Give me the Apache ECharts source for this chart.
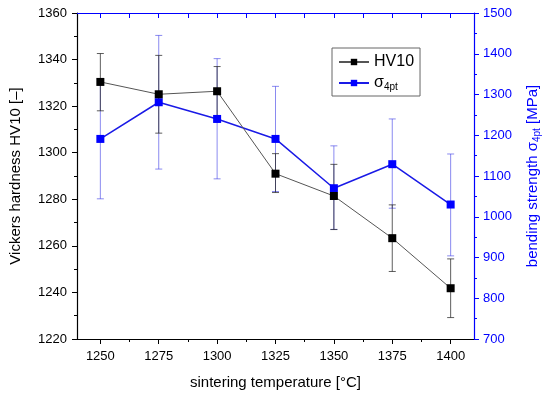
<!DOCTYPE html>
<html><head><meta charset="utf-8">
<script src="https://cdn.jsdelivr.net/npm/echarts@6/dist/echarts.min.js"></script>
<style>html,body{margin:0;padding:0;background:#fff}#c{width:550px;height:397px}</style>
</head><body><div id="c"></div>
<script>
const temps = [1250, 1275, 1300, 1325, 1350, 1375, 1400];
const hv = [1330.4, 1325.1, 1326.4, 1291.0, 1281.4, 1263.3, 1241.8];
const hvHigh = [1342.6, 1341.8, 1337.0, 1299.6, 1295.0, 1277.6, 1254.4];
const hvLow = [1318.0, 1308.4, 1315.8, 1282.9, 1267.0, 1249.0, 1229.2];
const sigma = [1191, 1281, 1240, 1191, 1070, 1129, 1030];
const sigmaHigh = [1338, 1445, 1388, 1320, 1174, 1240, 1154];
const sigmaLow = [1044, 1117, 1093, 1062, 969, 1021, 904];
const xMajor = [1250, 1275, 1300, 1325, 1350, 1375, 1400];
const xMinor = [1262.5, 1287.5, 1312.5, 1337.5, 1362.5, 1387.5];

const FONT = '"Liberation Sans", Arial, sans-serif';
const BLUE = '#0000ff';
const plain = v => String(v);

function errBar(color) {
  return function (params, api) {
    const x = api.value(0), lo = api.value(1), hi = api.value(2);
    const pLo = api.coord([x, lo]), pHi = api.coord([x, hi]);
    const w = 3.5;
    const st = { stroke: color, lineWidth: 1 };
    return { type: 'group', children: [
      { type: 'line', shape: { x1: pLo[0], y1: pLo[1], x2: pHi[0], y2: pHi[1] }, style: st },
      { type: 'line', shape: { x1: pLo[0] - w, y1: pLo[1], x2: pLo[0] + w, y2: pLo[1] }, style: st },
      { type: 'line', shape: { x1: pHi[0] - w, y1: pHi[1], x2: pHi[0] + w, y2: pHi[1] }, style: st }
    ]};
  };
}

const chart = echarts.init(document.getElementById('c'));
chart.setOption({
  animation: false,
  textStyle: { fontFamily: FONT },
  grid: { left: 71, right: 72, top: 13, bottom: 58 },
  legend: {
    left: 332, top: 48, orient: 'vertical', itemGap: 5,
    borderColor: '#666', borderWidth: 1, padding: [6, 6, 4, 6],
    itemWidth: 30, itemHeight: 8,
    data: ['HV10', 'sigma'],
    formatter: n => n === 'HV10' ? 'HV10' : '{s|σ}{sub|4pt}',
    textStyle: { fontSize: 16, color: '#000', fontFamily: FONT,
      rich: { s: { fontSize: 16, fontFamily: FONT }, sub: { fontSize: 10, verticalAlign: 'bottom', padding: [8, 0, 0, 0], fontFamily: FONT } } }
  },
  xAxis: [
    { type: 'value', min: 1240, max: 1410, position: 'bottom',
      name: 'sintering temperature [°C]', nameLocation: 'middle', nameGap: 36,
      nameTextStyle: { fontSize: 15, color: '#000', fontFamily: FONT },
      axisLine: { onZero: false, lineStyle: { color: '#000', width: 1.2 } },
      axisTick: { customValues: xMajor, length: 5, lineStyle: { color: '#000' } },
      axisLabel: { customValues: xMajor, fontSize: 13, color: '#000', margin: 11, fontFamily: FONT, formatter: plain },
      splitLine: { show: false } },
    { type: 'value', min: 1240, max: 1410, position: 'bottom',
      axisLine: { show: false },
      axisTick: { customValues: xMinor, length: 3, lineStyle: { color: '#000' } },
      axisLabel: { show: false }, splitLine: { show: false } },
    { type: 'value', min: 1240, max: 1410, position: 'top',
      axisLine: { onZero: false, lineStyle: { color: BLUE, width: 1.2 } },
      axisTick: { customValues: xMajor.concat(xMinor), inside: true, length: 5, lineStyle: { color: BLUE } },
      axisLabel: { show: false }, splitLine: { show: false } }
  ],
  yAxis: [
    { type: 'value', min: 1220, max: 1360, interval: 20, position: 'left',
      name: 'Vickers hardness HV10 [–]', nameLocation: 'middle', nameGap: 54, nameRotate: 90,
      nameTextStyle: { fontSize: 15, color: '#000', fontFamily: FONT },
      axisLine: { show: true, lineStyle: { color: '#000', width: 1.2 } },
      axisTick: { show: true, length: 5, lineStyle: { color: '#000' } },
      minorTick: { show: true, splitNumber: 2, length: 3, lineStyle: { color: '#000' } },
      axisLabel: { fontSize: 13, color: '#000', margin: 10, fontFamily: FONT, formatter: plain },
      splitLine: { show: false } },
    { type: 'value', min: 700, max: 1500, interval: 100, position: 'right',
      name: 'bending strength σ{sub|4pt} [MPa]', nameLocation: 'middle', nameGap: 50, nameRotate: 90,
      nameTextStyle: { fontSize: 15, color: BLUE, fontFamily: FONT,
        rich: { sub: { fontSize: 10, color: BLUE, verticalAlign: 'bottom', padding: [8, 0, 0, 0] } } },
      axisLine: { show: true, lineStyle: { color: BLUE, width: 1.2 } },
      axisTick: { show: true, length: 5, lineStyle: { color: BLUE } },
      minorTick: { show: true, splitNumber: 2, length: 3, lineStyle: { color: BLUE } },
      axisLabel: { fontSize: 13, color: BLUE, margin: 9, fontFamily: FONT, formatter: plain },
      splitLine: { show: false } }
  ],
  series: [
    { type: 'custom', name: 'sigmaErr', yAxisIndex: 1, renderItem: errBar('rgba(60,60,230,0.6)'),
      data: temps.map((t, i) => [t, sigmaLow[i], sigmaHigh[i]]), z: 1, silent: true },
    { type: 'custom', name: 'hvErr', yAxisIndex: 0, renderItem: errBar('rgba(40,40,40,0.75)'),
      data: temps.map((t, i) => [t, hvLow[i], hvHigh[i]]), z: 2, silent: true },
    { type: 'line', name: 'sigma', yAxisIndex: 1, data: temps.map((t, i) => [t, sigma[i]]),
      symbol: 'rect', symbolSize: 8, itemStyle: { color: BLUE }, lineStyle: { color: '#1a1ae6', width: 1.5 }, z: 3 },
    { type: 'line', name: 'HV10', yAxisIndex: 0, data: temps.map((t, i) => [t, hv[i]]),
      symbol: 'rect', symbolSize: 8, itemStyle: { color: '#000' }, lineStyle: { color: '#555', width: 1 }, z: 4 }
  ]
});
</script></body></html>
